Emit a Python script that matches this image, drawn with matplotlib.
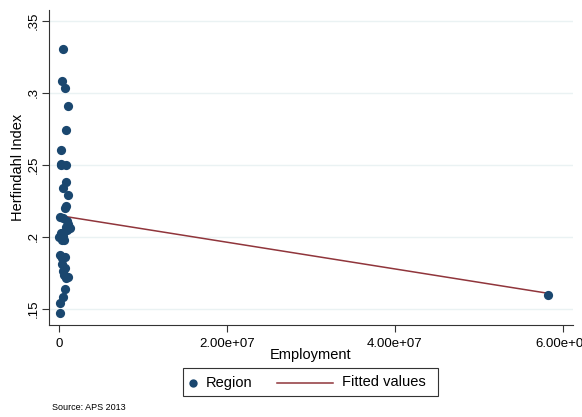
import numpy as np
import matplotlib.pyplot as plt
from matplotlib.patches import Rectangle
from matplotlib.lines import Line2D

plt.rcParams['font.family'] = ['Liberation Sans', 'DejaVu Sans']

# regional employment and Herfindahl index
employment = np.array([
    0.51e6, 0.32e6, 0.68e6, 1.10e6, 0.83e6, 0.24e6, 0.24e6, 0.86e6,
    0.88e6, 0.51e6, 1.10e6, 0.83e6, 0.75e6, 0.12e6, 0.51e6, 0.92e6,
    1.10e6, 0.80e6, 0.24e6, 0.00e6, 0.32e6, 0.12e6, 0.71e6, 0.40e6,
    0.71e6, 0.51e6, 1.03e6, 0.80e6, 0.71e6, 0.51e6, 0.12e6, 0.12e6,
    0.24e6, 1.30e6, 0.95e6, 0.60e6, 0.30e6, 0.60e6, 0.45e6, 58.2e6,
])
herfindahl = np.array([
    0.330, 0.308, 0.303, 0.291, 0.274, 0.260, 0.250, 0.250,
    0.238, 0.234, 0.229, 0.221, 0.220, 0.214, 0.213, 0.211,
    0.209, 0.207, 0.2025, 0.200, 0.198, 0.187, 0.186, 0.181,
    0.178, 0.176, 0.172, 0.171, 0.164, 0.158, 0.154, 0.147,
    0.2505, 0.206, 0.2045, 0.1975, 0.1855, 0.1735, 0.2005, 0.1595,
])
legend_labels = ['Region', 'Fitted values']

navy = '#1a476f'
maroon = '#90353b'

slope, intercept = np.polyfit(employment, herfindahl, 1)
xfit = np.array([employment.min(), employment.max()])
yfit = intercept + slope * xfit

W, H = 582, 417
fig = plt.figure(figsize=(W / 100, H / 100), dpi=100)
ax = fig.add_axes([0.0842, 0.2206, 0.9003, 0.7554])

ax.scatter(employment, herfindahl, s=44, color=navy, zorder=3, linewidths=0)
ax.plot(xfit, yfit, color=maroon, lw=1.1, zorder=2)

ax.set_xlim(-1.19e6, 6.12e7)
ax.set_ylim(0.1387, 0.3574)

ax.set_yticks([0.15, 0.2, 0.25, 0.3, 0.35])
ax.set_yticklabels(['.15', '.2', '.25', '.3', '.35'], rotation=90, va='center')
ax.set_xticks([0, 2e7, 4e7, 6e7])
ax.set_xticklabels(['0', '2.00e+07', '4.00e+07', '6.00e+07'])
ax.tick_params(labelsize=9.5, color='#333333', length=5, width=0.8, pad=4)
ax.tick_params(axis='y', pad=2)

ax.grid(axis='y', color='#eaf2f3', lw=1.0, zorder=0)
ax.set_axisbelow(True)
for side in ['top', 'right']:
    ax.spines[side].set_visible(False)
for side in ['left', 'bottom']:
    ax.spines[side].set_color('#333333')
    ax.spines[side].set_linewidth(0.8)

ax.set_xlabel('Employment', fontsize=10.5, labelpad=-1)
ax.set_ylabel('Herfindahl Index', fontsize=10.5, labelpad=2)

# legend box drawn in figure pixel space, Stata style
def fx(px):
    return px / W

def fy(py):
    return 1 - py / H

fig.patches.append(Rectangle((fx(183), fy(396)), fx(438) - fx(183), fy(368) - fy(396),
                             transform=fig.transFigure, fill=False,
                             edgecolor='#333333', lw=0.8))
fig.lines.append(Line2D([fx(193)], [fy(382.5)], transform=fig.transFigure,
                        marker='o', ms=6, color=navy, mec='none', ls='none'))
fig.text(fx(206), fy(382.5), legend_labels[0], fontsize=10.5, va='center', ha='left')
fig.lines.append(Line2D([fx(277), fx(333)], [fy(382.5), fy(382.5)],
                        transform=fig.transFigure, color=maroon, lw=1.1))
fig.text(fx(342), fy(382.5), legend_labels[1], fontsize=10.5, va='center', ha='left')

fig.text(fx(52), fy(408), 'Source: APS 2013', fontsize=6.5, va='center')

fig.savefig('out.png', dpi=100)
